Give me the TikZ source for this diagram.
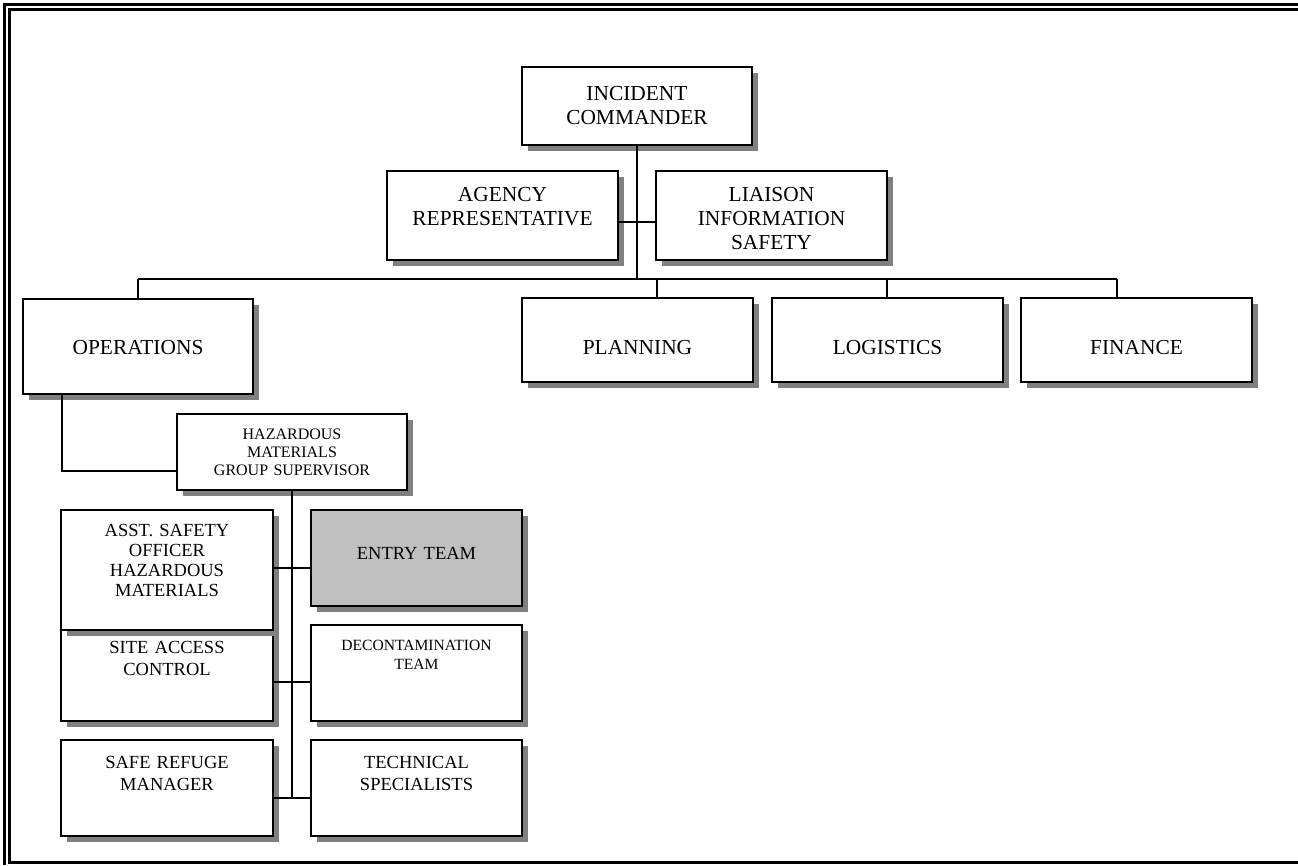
\documentclass[tikz,border=0pt]{standalone}
\usepackage{fontspec}
\setmainfont{Liberation Serif}
\usetikzlibrary{shadows}
\definecolor{shadowgray}{HTML}{808080}
\definecolor{entrygray}{HTML}{C0C0C0}
\tikzset{
  orgbox/.style={draw, line width=1.6pt, fill=white, inner sep=0pt,
    drop shadow={shadow xshift=6pt, shadow yshift=-6pt, fill=shadowgray, opacity=1}},
  conn/.style={line width=1.6pt},
  frameline/.style={line width=3pt},
  lbl/.style={anchor=base, text width=220pt, align=center, inner sep=0pt},
  bigtxt/.style={lbl, font=\fontsize{21.4}{24}\selectfont},
  midtxt/.style={lbl, font=\fontsize{18.5}{21.7}\selectfont},
  smalltxt/.style={lbl, font=\fontsize{16}{18}\selectfont},
}
\begin{document}
\begin{tikzpicture}[x=1pt,y=-1pt]
\useasboundingbox (0,0) rectangle (1298,865);

% page frame
\draw[frameline] (4.3,865) -- (4.3,4.3) -- (1298,4.3);
\draw[frameline] (1298,9.3) -- (9.5,9.3) -- (9.5,862) -- (1298,862);

% boxes
\node[orgbox, minimum width=230pt, minimum height=78pt] (ic) at (637,106) {};
\node[orgbox, minimum width=231pt, minimum height=89pt] (ag) at (502.5,215.5) {};
\node[orgbox, minimum width=231pt, minimum height=89pt] (li) at (771.5,215.5) {};
\node[orgbox, minimum width=230pt, minimum height=95pt] (op) at (138,346.5) {};
\node[orgbox, minimum width=231pt, minimum height=84pt] (pl) at (637.5,340) {};
\node[orgbox, minimum width=231pt, minimum height=84pt] (lo) at (887.5,340) {};
\node[orgbox, minimum width=231pt, minimum height=84pt] (fi) at (1136.5,340) {};
\node[orgbox, minimum width=230pt, minimum height=76pt] (hz) at (292,452) {};
\node[orgbox, minimum width=212pt, minimum height=96pt] (si) at (167,673) {};
\node[orgbox, minimum width=212pt, minimum height=120pt] (as) at (167,570) {};
\node[orgbox, fill=entrygray, minimum width=211pt, minimum height=96pt] (en) at (416.5,558) {};
\node[orgbox, minimum width=211pt, minimum height=96pt] (de) at (416.5,673) {};
\node[orgbox, minimum width=212pt, minimum height=96pt] (sr) at (167,788) {};
\node[orgbox, minimum width=211pt, minimum height=96pt] (te) at (416.5,788) {};

% texts
\node[bigtxt] (tic) at (637,100) {INCIDENT\\COMMANDER};
\node[bigtxt] (tag) at (502.5,201.7) {AGENCY\\REPRESENTATIVE};
\node[bigtxt] (tli) at (771.5,201.7) {LIAISON\\INFORMATION\\SAFETY};
\node[bigtxt] (top) at (138,354) {OPERATIONS};
\node[bigtxt] (tpl) at (637.5,354) {PLANNING};
\node[bigtxt] (tlo) at (887.5,354) {LOGISTICS};
\node[bigtxt] (tfi) at (1136.5,354) {FINANCE};
\node[smalltxt] (thz) at (292,439.3) {HAZARDOUS\\MATERIALS\\GROUP SUPERVISOR};
\node[midtxt, font=\fontsize{18.5}{20}\selectfont] (tas) at (167,536.7) {ASST. SAFETY\\OFFICER\\HAZARDOUS\\MATERIALS};
\node[midtxt] (ten) at (416.5,559.3) {ENTRY TEAM};
\node[midtxt] (tsi) at (167,653.3) {SITE ACCESS\\CONTROL};
\node[lbl, font=\fontsize{15.6}{18.7}\selectfont] (tde) at (416.5,650.7) {DECONTAMINATION\\TEAM};
\node[midtxt] (tsr) at (167,768.3) {SAFE REFUGE\\MANAGER};
\node[midtxt] (tte) at (416.5,768.3) {TECHNICAL\\SPECIALISTS};

% junction coordinates
\coordinate (jstaff) at (637,222);
\coordinate (jbus) at (637,279);
\coordinate (busL) at (138,279);
\coordinate (busP) at (657,279);
\coordinate (busLo) at (887,279);
\coordinate (busR) at (1117,279);
\coordinate (opdrop) at (62,471);
\coordinate (hzbot) at (292,798);

% connectors
\draw[conn] (ic.south) -- (jbus);
\draw[conn] (ag.east |- jstaff) -- (li.west |- jstaff);
\draw[conn] (busL) -- (busR);
\draw[conn] (busL) -- (op.north);
\draw[conn] (busP) -- (busP |- pl.north);
\draw[conn] (busLo) -- (busLo |- lo.north);
\draw[conn] (busR) -- (busR |- fi.north);
\draw[conn] (opdrop |- op.south) -- (opdrop) -- (hz.west |- opdrop);
\draw[conn] (hz.south) -- (hzbot);
\draw[conn] (as.east |- 0,568) -- (en.west |- 0,568);
\draw[conn] (si.east |- 0,682) -- (de.west |- 0,682);
\draw[conn] (sr.east |- hzbot) -- (te.west |- hzbot);
\end{tikzpicture}
\end{document}
